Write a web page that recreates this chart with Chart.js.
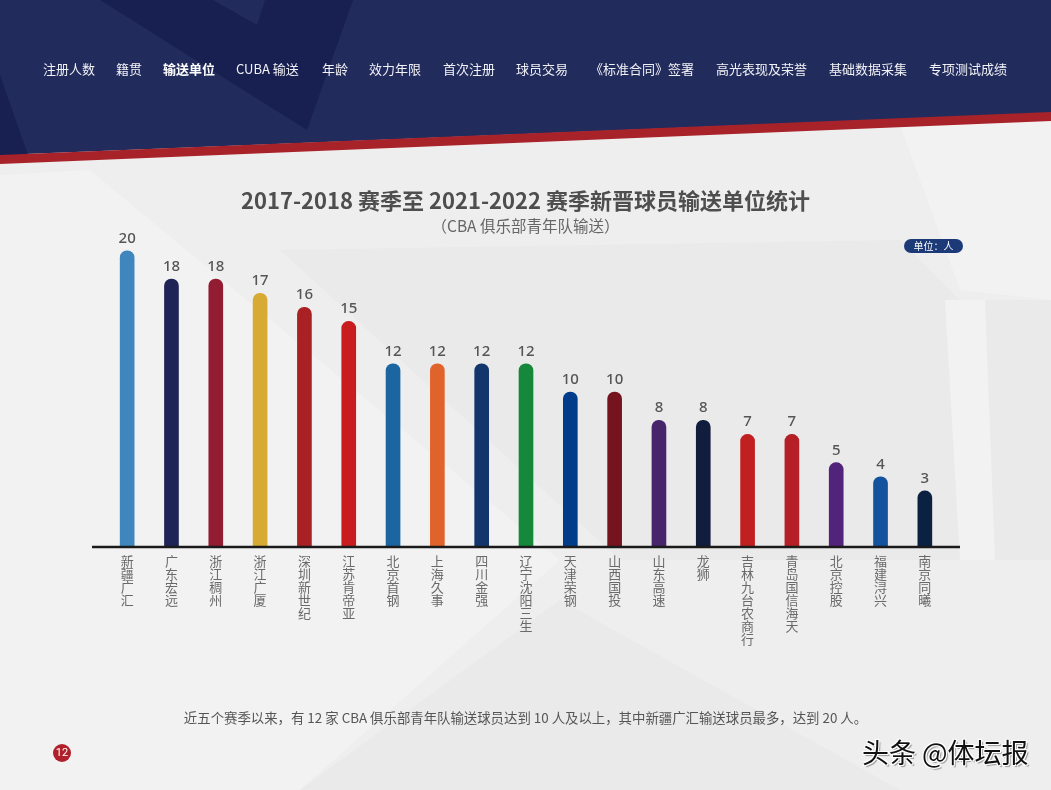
<!DOCTYPE html>
<html>
<head>
<meta charset="utf-8">
<script src="https://cdn.jsdelivr.net/npm/chart.js@4.4.1/dist/chart.umd.min.js"></script>
<style>
  body { margin: 0; background: #efefef; }
  #page {
    position: relative; width: 1051px; height: 790px; overflow: hidden;
    font-family: "Noto Sans CJK SC", "Noto Sans", sans-serif;
  }
  #chartBox { position: absolute; left: 0; top: 0; width: 1051px; height: 790px; }
  .nav { position: absolute; top: 60px; color: #f2f2f6; font-size: 13px; line-height: 18px; white-space: nowrap; }
  .nav.on { font-weight: bold; color: #ffffff; }
  .title { position: absolute; left: 0; width: 1051px; text-align: center; white-space: nowrap; }
  #unit {
    position: absolute; left: 904px; top: 239px; width: 59px; height: 14px;
    background: #1c3a78; border-radius: 7px; color: #fff; font-size: 10px;
    line-height: 14px; text-align: center;
  }
  #pageNo {
    position: absolute; left: 53px; top: 744px; width: 18px; height: 18px; border-radius: 9px;
    background: #b0202a; color: #fff; font-size: 11px; line-height: 18px; text-align: center;
    font-family: "Roboto", sans-serif;
  }
  #mark {
    position: absolute; left: 862px; top: 734px; font-size: 27px; line-height: 36px; color: #111;
    text-shadow: 1px 1px 0 #fff, -1px -1px 0 #fff, 1px -1px 0 #fff, -1px 1px 0 #fff, 2px 2px 1px #999;
    white-space: nowrap;
  }
</style>
</head>
<body>
<div id="page">
  <div id="chartBox"><canvas id="transferChart"></canvas></div>

  <div class="nav" style="left:43px">注册人数</div>
  <div class="nav" style="left:116px">籍贯</div>
  <div class="nav on" style="left:163px">输送单位</div>
  <div class="nav" style="left:236px">CUBA 输送</div>
  <div class="nav" style="left:322px">年龄</div>
  <div class="nav" style="left:369px">效力年限</div>
  <div class="nav" style="left:443px">首次注册</div>
  <div class="nav" style="left:516px">球员交易</div>
  <div class="nav" style="left:590px">《标准合同》签署</div>
  <div class="nav" style="left:716px">高光表现及荣誉</div>
  <div class="nav" style="left:829px">基础数据采集</div>
  <div class="nav" style="left:929px">专项测试成绩</div>

  <div class="title" style="top:184px;font-size:22px;line-height:30px;font-weight:bold;color:#4e4e4e;">2017-2018 赛季至 2021-2022 赛季新晋球员输送单位统计</div>
  <div class="title" style="top:214px;font-size:15.5px;line-height:22px;color:#666;">（CBA 俱乐部青年队输送）</div>
  <div id="unit">单位：人</div>

  <div class="title" style="top:707px;font-size:13.4px;line-height:20px;color:#555;">近五个赛季以来，有 12 家 CBA 俱乐部青年队输送球员达到 10 人及以上，其中新疆广汇输送球员最多，达到 20 人。</div>
  <div id="pageNo">12</div>
  <div id="mark">头条 @体坛报</div>
</div>

<script>
// clubs, left to right
const clubs = [
  '新疆广汇', '广东宏远', '浙江稠州', '浙江广厦', '深圳新世纪', '江苏肯帝亚',
  '北京首钢', '上海久事', '四川金强', '辽宁沈阳三生', '天津荣钢', '山西国投',
  '山东高速', '龙狮', '吉林九台农商行', '青岛国信海天', '北京控股', '福建浔兴', '南京同曦'
];
const players = [20, 18, 18, 17, 16, 15, 12, 12, 12, 12, 10, 10, 8, 8, 7, 7, 5, 4, 3];
const clubColors = [
  '#3f86bd', '#1f2456', '#921d33', '#d6aa33', '#a92124', '#c81c1f',
  '#1b65a0', '#e0632b', '#12366c', '#15883b', '#003c8a', '#75141e',
  '#46256a', '#121d3d', '#c0201f', '#b42026', '#51237a', '#13529c', '#0b2142'
];

const AXIS_MIN = -0.9;

function poly(ctx, pts, color) {
    ctx.beginPath();
    ctx.moveTo(pts[0][0], pts[0][1]);
    for (let i = 1; i < pts.length; i++) ctx.lineTo(pts[i][0], pts[i][1]);
    ctx.closePath();
    ctx.fillStyle = color;
    ctx.fill();
}

// page background: grey body with faint shapes, navy header and red stripe
const pageBackground = {
    id: 'pageBackground',
    beforeDraw(chart) {
        const ctx = chart.ctx;
        ctx.save();
        ctx.fillStyle = '#eeeeee';
        ctx.fillRect(0, 0, chart.width, chart.height);
        poly(ctx, [[0, 175], [90, 170], [560, 560], [300, 790], [0, 790]], '#f2f2f2');
        poly(ctx, [[280, 250], [900, 240], [960, 300], [1051, 300], [1051, 560], [620, 560]], '#eaeaea');
        poly(ctx, [[900, 125], [1051, 112], [1051, 300], [960, 290]], '#f2f2f2');
        poly(ctx, [[945, 300], [985, 300], [995, 560], [960, 560]], '#f2f2f2');
        poly(ctx, [[300, 790], [560, 600], [900, 790]], '#eaeaea');
        // header
        poly(ctx, [[0, 0], [1051, 0], [1051, 113], [0, 155]], '#212c5c');
        poly(ctx, [[100, 0], [353, 0], [307, 130]], '#172050');
        poly(ctx, [[213, 0], [265, 0], [257, 25]], '#212c5c');
        poly(ctx, [[0, 75], [28, 155], [0, 155]], '#172050');
        poly(ctx, [[0, 155], [1051, 112], [1051, 121], [0, 164]], '#a8222a');
        ctx.restore();
    }
};

// baseline and value labels above the bars
const barDecor = {
    id: 'barDecor',
    afterDatasetsDraw(chart) {
        const ctx = chart.ctx;
        const area = chart.chartArea;
        const y0 = chart.scales.y.getPixelForValue(AXIS_MIN);
        ctx.save();
        ctx.strokeStyle = '#1a1a1a';
        ctx.lineWidth = 2.5;
        ctx.beginPath();
        ctx.moveTo(area.left - 13, y0 + 1);
        ctx.lineTo(area.right + 13, y0 + 1);
        ctx.stroke();

        ctx.fillStyle = '#555555';
        ctx.font = '500 15px "Noto Sans", sans-serif';
        ctx.textAlign = 'center';
        ctx.textBaseline = 'alphabetic';
        chart.getDatasetMeta(0).data.forEach((bar, i) => {
            ctx.fillText(players[i], bar.x, bar.y - 8);
        });
        ctx.restore();
    }
};

new Chart(document.getElementById('transferChart'), {
    type: 'bar',
    data: {
        labels: clubs.map(name => name.split('')),
        datasets: [{
            data: players,
            base: AXIS_MIN,
            backgroundColor: clubColors,
            barThickness: 14,
            borderRadius: { topLeft: 7, topRight: 7, bottomLeft: 0, bottomRight: 0 },
            borderSkipped: 'start'
        }]
    },
    options: {
        responsive: true,
        maintainAspectRatio: false,
        animation: false,
        devicePixelRatio: 1,
        layout: { padding: { left: 105, right: 104, top: 200, bottom: 0 } },
        scales: {
            x: {
                grid: { display: false, drawTicks: false },
                border: { display: false },
                ticks: {
                    color: '#6a6a6a',
                    font: { family: '"Noto Sans CJK SC", sans-serif', size: 13, lineHeight: 1.0 },
                    padding: 9,
                    maxRotation: 0,
                    autoSkip: false
                },
                afterFit(scale) { scale.height = 244; }
            },
            y: {
                display: false,
                min: AXIS_MIN,
                max: 23.6
            }
        },
        plugins: {
            legend: { display: false },
            tooltip: { enabled: false }
        }
    },
    plugins: [pageBackground, barDecor]
});
</script>
</body>
</html>
